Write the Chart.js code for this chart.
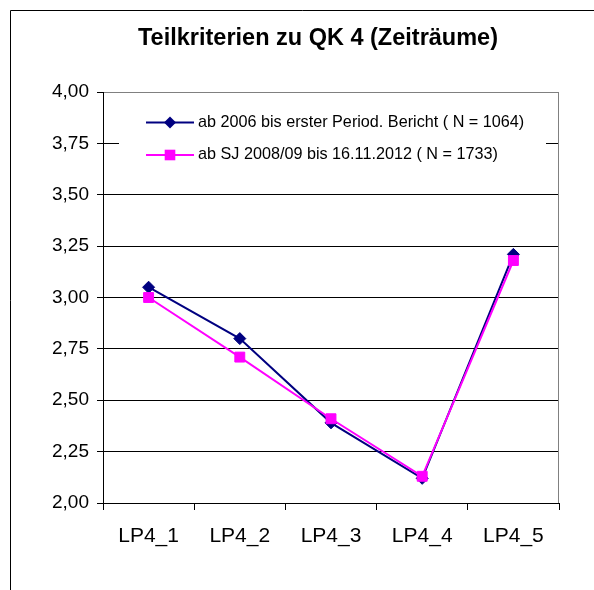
<!DOCTYPE html>
<html><head><meta charset="utf-8">
<script src="https://cdn.jsdelivr.net/npm/chart.js@4"></script>
<style>html,body{margin:0;padding:0;background:#fff;}#wrap{width:594px;height:590px;position:relative}</style>
</head><body><div id="wrap"><canvas id="c" width="594" height="590"></canvas></div>
<script>
const chartTitle = 'Teilkriterien zu QK 4 (Zeiträume)';
const categories = ['LP4_1', 'LP4_2', 'LP4_3', 'LP4_4', 'LP4_5'];
const seriesNames = ['ab 2006 bis erster Period. Bericht ( N = 1064)', 'ab SJ 2008/09 bis 16.11.2012 ( N = 1733)'];
const series1 = [3.05, 2.80, 2.39, 2.12, 3.21];
const series2 = [3.00, 2.71, 2.41, 2.13, 3.18];
const yMin = 2, yMax = 4, yStep = 0.25;

const FONT = '"Liberation Sans", Arial, Helvetica, sans-serif';
const NAVY = '#000080', MAGENTA = '#FF00FF';

function drawDiamond(ctx, x, y, r, color) {
  ctx.fillStyle = color;
  ctx.beginPath();
  ctx.moveTo(x, y - r); ctx.lineTo(x + r, y); ctx.lineTo(x, y + r); ctx.lineTo(x - r, y);
  ctx.closePath(); ctx.fill();
}
function drawSquare(ctx, x, y, h, color) {
  ctx.fillStyle = color;
  ctx.fillRect(x - h, y - h, 2 * h, 2 * h);
}

const decor = {
  id: 'decor',
  beforeDraw(chart) {
    const ctx = chart.ctx;
    ctx.save();
    ctx.fillStyle = '#fff';
    ctx.fillRect(0, 0, chart.width, chart.height);
    ctx.strokeStyle = '#000'; ctx.lineWidth = 1;
    ctx.beginPath();
    ctx.moveTo(10.5, chart.height); ctx.lineTo(10.5, 10.5); ctx.lineTo(chart.width, 10.5);
    ctx.stroke();
    ctx.font = 'bold 23.5px ' + FONT;
    ctx.fillStyle = '#000'; ctx.textAlign = 'center'; ctx.textBaseline = 'middle';
    ctx.fillText(chartTitle, 318, 39);
    ctx.restore();
  },
  beforeDatasetsDraw(chart) {
    const ctx = chart.ctx;
    const a = chart.chartArea;
    ctx.save();
    ctx.strokeStyle = '#808080'; ctx.lineWidth = 1;
    ctx.beginPath();
    ctx.moveTo(a.right - 0.5, a.top); ctx.lineTo(a.right - 0.5, a.bottom);
    ctx.stroke();
    // legend background
    ctx.fillStyle = '#fff';
    ctx.fillRect(a.left + 16, a.top + 8, (a.right - 13) - (a.left + 16), 82);
    ctx.restore();
  },
  afterDatasetsDraw(chart) {
    const ctx = chart.ctx;
    const a = chart.chartArea;
    ctx.save();
    const rows = [a.top + 30.5, a.top + 63];
    const colors = [NAVY, MAGENTA];
    const x0 = a.left + 43, x1 = a.left + 91, xm = a.left + 67, xt = a.left + 95;
    for (let i = 0; i < 2; i++) {
      const y = rows[i];
      ctx.strokeStyle = colors[i]; ctx.lineWidth = 2;
      ctx.beginPath(); ctx.moveTo(x0, y); ctx.lineTo(x1, y); ctx.stroke();
      if (i === 0) drawDiamond(ctx, xm, y, 6, NAVY); else drawSquare(ctx, xm, y, 5.3, MAGENTA);
      ctx.fillStyle = '#000';
      ctx.font = '16.2px ' + FONT;
      ctx.textAlign = 'left'; ctx.textBaseline = 'middle';
      ctx.fillText(chart.data.datasets[i].label, xt, y);
    }
    ctx.restore();
  }
};

new Chart(document.getElementById('c').getContext('2d'), {
  type: 'line',
  data: {
    labels: categories,
    datasets: [
      {
        label: seriesNames[0], data: series1,
        borderColor: NAVY, backgroundColor: NAVY, borderWidth: 2,
        pointStyle: 'rectRot', pointRadius: 6, pointBorderWidth: 1,
        pointBorderColor: NAVY, pointBackgroundColor: NAVY,
        tension: 0, fill: false, order: 1
      },
      {
        label: seriesNames[1], data: series2,
        borderColor: MAGENTA, backgroundColor: MAGENTA, borderWidth: 2,
        pointStyle: 'rect', pointRadius: 7, pointBorderWidth: 1,
        pointBorderColor: MAGENTA, pointBackgroundColor: MAGENTA,
        tension: 0, fill: false, order: 0
      }
    ]
  },
  options: {
    responsive: false, animation: false, devicePixelRatio: 1,
    layout: { padding: { top: 92, left: 0, right: 35, bottom: 0 } },
    plugins: { legend: { display: false }, title: { display: false }, tooltip: { enabled: false } },
    scales: {
      x: {
        offset: true,
        grid: { offset: true, drawOnChartArea: false, drawTicks: true, tickLength: 7, color: '#000', tickColor: '#000' },
        border: { color: '#000', width: 1 },
        ticks: { color: '#000', font: { family: FONT, size: 21 }, padding: 14, maxRotation: 0, autoSkip: false },
        afterFit(s) { s.height = 87; }
      },
      y: {
        min: yMin, max: yMax,
        ticks: {
          stepSize: yStep, color: '#000', font: { family: FONT, size: 19 }, padding: 8,
          callback: v => Number(v).toFixed(2).replace('.', ',')
        },
        grid: {
          color: c => (c.tick && c.tick.value === yMax) ? '#808080' : '#000',
          tickColor: '#000', tickLength: 6, lineWidth: 1
        },
        border: { color: '#000', width: 1 },
        afterFit(s) { s.width = 103; }
      }
    }
  },
  plugins: [decor]
});
</script></body></html>
